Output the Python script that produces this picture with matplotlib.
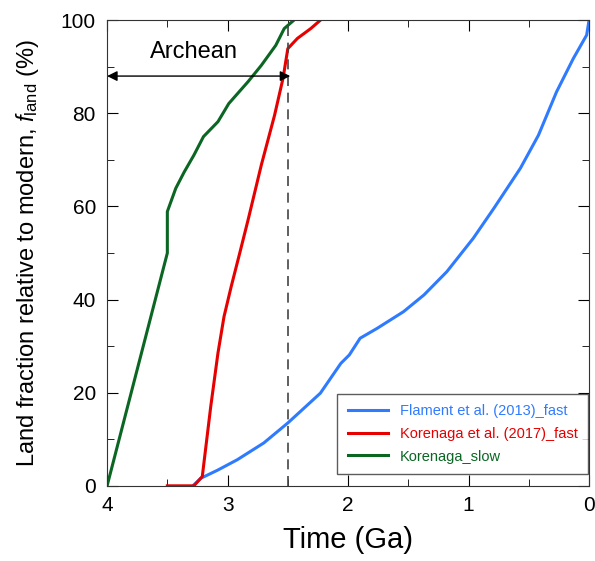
import matplotlib.pyplot as plt
from matplotlib.ticker import MultipleLocator

plt.rcParams['font.family'] = ['Liberation Sans', 'DejaVu Sans']
plt.rcParams['mathtext.fontset'] = 'custom'
plt.rcParams['mathtext.it'] = 'Liberation Sans:italic'
plt.rcParams['mathtext.rm'] = 'Liberation Sans'

# Flament et al. (2013)_fast
flament_age = [3.28, 3.22, 3.08, 2.92, 2.70, 2.50, 2.23, 2.06, 1.99, 1.90, 1.76,
               1.54, 1.37, 1.18, 0.96, 0.79, 0.57, 0.42, 0.27, 0.13, 0.02, 0.0]
flament_land = [0.2, 1.65, 3.4, 5.6, 9.2, 13.5, 19.9, 26.3, 28.1, 31.7, 33.8,
                37.4, 41.0, 46.0, 53.2, 59.6, 68.2, 75.3, 84.6, 91.8, 96.8, 100.0]

# Korenaga et al. (2017)_fast
kor_fast_age = [3.50, 3.40, 3.28, 3.21, 3.14, 3.08, 3.03, 2.97, 2.90, 2.83, 2.72,
                2.61, 2.54, 2.50, 2.42, 2.31, 2.23]
kor_fast_land = [0.0, 0.0, 0.0, 2.0, 17.0, 28.5, 36.3, 42.8, 49.9, 57.1, 68.9,
                 79.6, 87.5, 93.9, 96.1, 98.2, 100.0]

# Korenaga_slow
kor_slow_age = [4.0, 3.50, 3.50, 3.43, 3.36, 3.28, 3.20, 3.08, 2.99, 2.83, 2.72,
                2.60, 2.53, 2.45]
kor_slow_land = [0.0, 50.0, 58.9, 63.9, 67.4, 71.0, 75.0, 78.2, 82.1, 86.8, 90.3,
                 94.6, 98.2, 100.0]

c_blue = '#2f7bff'
c_red = '#e60000'
c_green = '#0b6623'

fig = plt.figure(figsize=(5.95, 5.61), dpi=100)
ax = fig.add_axes([0.180, 0.134, 0.810, 0.830])

ax.plot(flament_age, flament_land, color=c_blue, lw=2.2, label='Flament et al. (2013)_fast')
ax.plot(kor_fast_age, kor_fast_land, color=c_red, lw=2.2, label='Korenaga et al. (2017)_fast')
ax.plot(kor_slow_age, kor_slow_land, color=c_green, lw=2.2, label='Korenaga_slow')

ax.axvline(2.5, color='#444444', lw=1.2, ls=(0, (6, 4)))
ax.annotate('', xy=(4.0, 88.0), xytext=(2.48, 88.0),
            arrowprops=dict(arrowstyle='<|-|>', color='black', lw=1.0,
                            mutation_scale=15, shrinkA=0, shrinkB=0))
ax.text(3.28, 93.2, 'Archean', fontsize=17, ha='center', va='center')

ax.set_xlim(4, 0)
ax.set_ylim(0, 100)
ax.xaxis.set_major_locator(MultipleLocator(1))
ax.xaxis.set_minor_locator(MultipleLocator(0.5))
ax.yaxis.set_major_locator(MultipleLocator(20))
ax.yaxis.set_minor_locator(MultipleLocator(10))
ax.tick_params(which='both', direction='in', top=True, right=True, labelsize=15)
ax.tick_params(which='major', length=8)
ax.tick_params(which='minor', length=5)
ax.tick_params(axis='x', which='major', pad=7)
ax.tick_params(axis='y', which='major', pad=8)
for s in ax.spines.values():
    s.set_color('#333333')

ax.set_xlabel('Time (Ga)', fontsize=21, labelpad=8)
ax.set_ylabel('Land fraction relative to modern, $f_{\\mathrm{land}}$ (%)', fontsize=17,
              labelpad=14)

leg = ax.legend(loc='lower right', fontsize=10.5, fancybox=False, edgecolor='#333333',
                handlelength=2.8, borderpad=0.7, labelspacing=0.6,
                bbox_to_anchor=(0.998, 0.026), borderaxespad=0)
leg.get_frame().set_linewidth(1.0)
for txt, col in zip(leg.get_texts(), [c_blue, c_red, c_green]):
    txt.set_color(col)

fig.savefig('out.png', dpi=100)
